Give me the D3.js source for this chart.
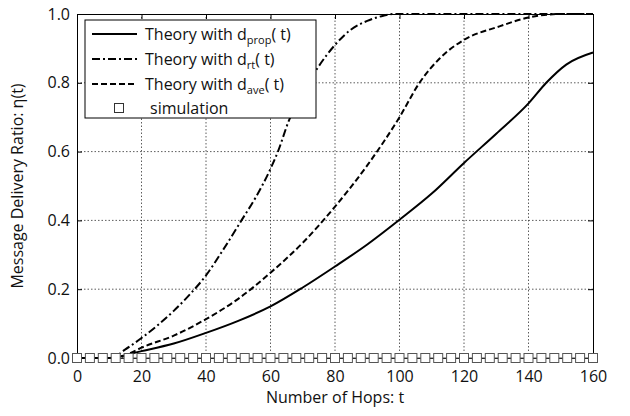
<!DOCTYPE html>
<html lang="en">
<head>
<meta charset="UTF-8">
<title>Message Delivery Ratio</title>
<script src="https://d3js.org/d3.v7.min.js"></script>
<style>
  body { margin: 0; background: #fff; }
  text { font-family: "Open Sans", "Noto Sans", sans-serif; fill: #111; }
  .grid line { stroke: #333; stroke-dasharray: 1.5 2; stroke-width: 0.8; }
</style>
</head>
<body>
<script>
// hops and theory curves
const tProp = [0, 10, 20, 30, 40, 50, 60, 70, 80, 90, 100, 110, 120, 130, 140, 145.5, 151.7, 160];
const vProp = [0, 0, 0.02, 0.042, 0.073, 0.108, 0.15, 0.205, 0.266, 0.33, 0.402, 0.478, 0.567, 0.652, 0.74, 0.8, 0.853, 0.888];

const tRt = [0, 10.7, 15, 20, 25, 30, 35, 40, 45, 51, 55.6, 60, 62.3, 65.7, 70, 74.6, 80, 85, 90, 95, 98, 160];
const vRt = [0, 0, 0.025, 0.058, 0.095, 0.137, 0.185, 0.24, 0.31, 0.4, 0.47, 0.55, 0.6, 0.69, 0.77, 0.843, 0.91, 0.955, 0.98, 0.995, 1.0, 1.0];

const tAve = [0, 12, 16, 20, 30, 40, 50, 60, 70, 80, 90, 100, 106.2, 112.6, 120, 131, 140, 150, 160];
const vAve = [0, 0, 0.012, 0.03, 0.065, 0.113, 0.172, 0.248, 0.335, 0.44, 0.56, 0.70, 0.8, 0.872, 0.925, 0.964, 0.99, 1.0, 1.0];

// simulation points
const tSim = [0, 4, 8, 12, 16, 20, 24, 28, 32, 36, 40, 44, 48, 52, 56, 60, 64, 68, 72, 76, 80, 84, 88, 92, 96, 100, 104, 108, 112, 116, 120, 124, 128, 132, 136, 140, 144, 148, 152, 156, 160];
const vSim = [0, 0, 0, 0, 0, 0, 0, 0, 0, 0, 0, 0, 0, 0, 0, 0, 0, 0, 0, 0, 0, 0, 0, 0, 0, 0, 0, 0, 0, 0, 0, 0, 0, 0, 0, 0, 0, 0, 0, 0, 0];

const xTicks = [0, 20, 40, 60, 80, 100, 120, 140, 160];
const yTicks = [0, 0.2, 0.4, 0.6, 0.8, 1.0];

const width = 630, height = 416;
const margin = { left: 77, right: 37, top: 14, bottom: 58 };

const svg = d3.select("body").append("svg")
    .attr("width", width)
    .attr("height", height);

const x = d3.scaleLinear().domain([0, 160]).range([margin.left, width - margin.right]);
const y = d3.scaleLinear().domain([0, 1]).range([height - margin.bottom, margin.top]);

// dotted grid
const grid = svg.append("g").attr("class", "grid");
grid.selectAll(".gx").data(xTicks.slice(1, -1)).enter().append("line")
    .attr("x1", d => x(d)).attr("x2", d => x(d))
    .attr("y1", y(0)).attr("y2", y(1));
grid.selectAll(".gy").data(yTicks.slice(1, -1)).enter().append("line")
    .attr("x1", x(0)).attr("x2", x(160))
    .attr("y1", d => y(d)).attr("y2", d => y(d));

// axes with inner ticks
const axB = svg.append("g").attr("transform", `translate(0,${y(0)})`)
    .call(d3.axisBottom(x).tickValues(xTicks).tickSizeInner(-5).tickSizeOuter(0).tickPadding(10));
const axT = svg.append("g").attr("transform", `translate(0,${y(1)})`)
    .call(d3.axisTop(x).tickValues(xTicks).tickSizeInner(-5).tickSizeOuter(0).tickFormat(""));
const axL = svg.append("g").attr("transform", `translate(${x(0)},0)`)
    .call(d3.axisLeft(y).tickValues(yTicks).tickSizeInner(-5).tickSizeOuter(0).tickPadding(7).tickFormat(d3.format(".1f")));
const axR = svg.append("g").attr("transform", `translate(${x(160)},0)`)
    .call(d3.axisRight(y).tickValues(yTicks).tickSizeInner(-5).tickSizeOuter(0).tickFormat(""));

[axB, axT, axL, axR].forEach(a => {
    a.select(".domain").attr("stroke", "#000").attr("stroke-width", 1);
    a.selectAll(".tick line").attr("stroke", "#000");
    a.selectAll("text").style("font-size", "16px").attr("fill", "#111");
});
axB.selectAll("text").attr("dy", "0.9em");

// curves
const line = d3.line().x(d => x(d[0])).y(d => y(d[1])).curve(d3.curveMonotoneX);
const zip = (ts, vs) => ts.map((t, i) => [t, vs[i]]);

const series = [
    { name: "prop", data: zip(tProp, vProp), dash: null },
    { name: "rt", data: zip(tRt, vRt), dash: "8 3 2 3" },
    { name: "ave", data: zip(tAve, vAve), dash: "6 3" }
];

// simulation: thin connector + squares
const sim = zip(tSim, vSim);
svg.append("path").datum(sim)
    .attr("d", d3.line().x(d => x(d[0])).y(d => y(d[1])))
    .attr("fill", "none").attr("stroke", "#555").attr("stroke-width", 1);

series.forEach(s => {
    svg.append("path").datum(s.data)
        .attr("d", line)
        .attr("fill", "none")
        .attr("stroke", "#000")
        .attr("stroke-width", 2)
        .attr("stroke-dasharray", s.dash);
});

svg.selectAll(".sim").data(sim).enter().append("rect")
    .attr("class", "sim")
    .attr("x", d => x(d[0]) - 4.5).attr("y", d => y(d[1]) - 4.5)
    .attr("width", 9).attr("height", 9)
    .attr("fill", "#fff").attr("stroke", "#555").attr("stroke-width", 1);

// axis titles
svg.append("text")
    .attr("x", x(80)).attr("y", 403)
    .attr("text-anchor", "middle")
    .style("font-size", "16px")
    .text("Number of Hops: t");
svg.append("text")
    .attr("transform", `translate(23,${y(0.5)}) rotate(-90)`)
    .attr("text-anchor", "middle")
    .style("font-size", "16px")
    .text("Message Delivery Ratio: η(t)");

// legend
const lg = svg.append("g");
lg.append("rect")
    .attr("x", 85).attr("y", 20).attr("width", 231).attr("height", 98)
    .attr("fill", "#fff").attr("stroke", "#000").attr("stroke-width", 1);

const legendRows = [
    { sub: "prop", dash: null, yy: 34 },
    { sub: "rt", dash: "8 3 2 3", yy: 59 },
    { sub: "ave", dash: "6 3", yy: 84 }
];
legendRows.forEach(r => {
    lg.append("line")
        .attr("x1", 92).attr("x2", 137).attr("y1", r.yy).attr("y2", r.yy)
        .attr("stroke", "#000").attr("stroke-width", 2)
        .attr("stroke-dasharray", r.dash);
    const t = lg.append("text")
        .attr("x", 145).attr("y", r.yy).attr("dy", "0.35em")
        .style("font-size", "16px");
    t.append("tspan").text("Theory with d");
    t.append("tspan").attr("dy", "4").style("font-size", "11px").text(r.sub);
    t.append("tspan").attr("dy", "-4").text("( t)");
});
lg.append("rect")
    .attr("x", 114.5).attr("y", 108 - 4.5).attr("width", 9).attr("height", 9)
    .attr("fill", "#fff").attr("stroke", "#333");
lg.append("text")
    .attr("x", 150).attr("y", 108).attr("dy", "0.35em")
    .style("font-size", "16px")
    .text("simulation");
</script>
</body>
</html>
